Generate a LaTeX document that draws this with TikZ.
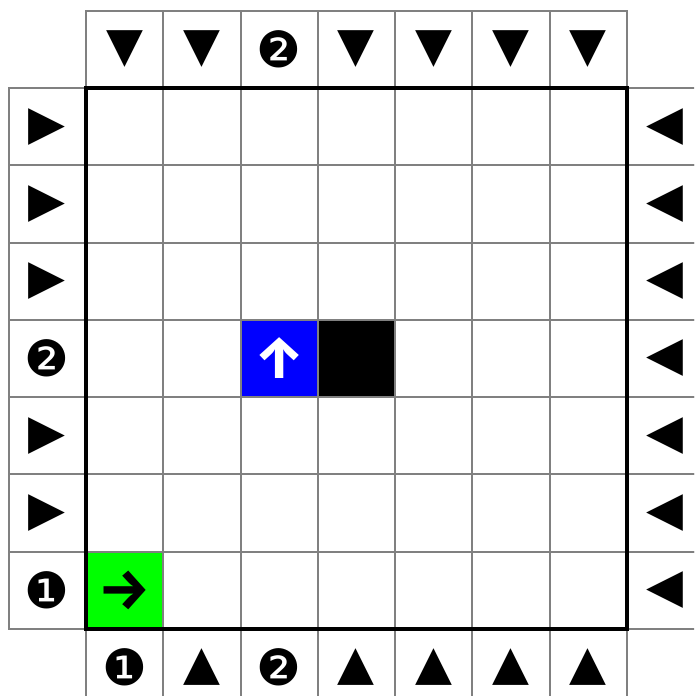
\documentclass[tikz,border=0pt]{standalone}
\usepackage{fontspec}
\newfontfamily\dv{DejaVu Sans}
\newfontfamily\fira{Fira Sans}[UprightFont={* Bold}]
\usetikzlibrary{backgrounds}
\definecolor{gridgray}{HTML}{808080}
\definecolor{cellgreen}{HTML}{00FF00}
\definecolor{cellblue}{HTML}{0000FF}
\begin{document}
\begin{tikzpicture}[x=1pt,y=-1pt,
  cell/.style={draw=gridgray, line width=2pt, minimum size=77.25pt, inner sep=0pt, outer sep=0pt},
  tri/.style={font=\dv\fontsize{48}{48}\selectfont},
  num/.style={font=\dv\fontsize{50}{50}\selectfont},
  arr/.style={font=\fira\fontsize{58}{58}\selectfont}]
\useasboundingbox (0,0) rectangle (694,696);
\clip (0,0) rectangle (694,696);
\def\cs{77.25}
% main grid
\foreach \i in {0,...,6} {
  \foreach \j in {0,...,6} {
    \node[cell] (m-\i-\j) at ({86+(\j+0.5)*\cs},{88+(\i+0.5)*\cs}) {};
  }
}
% coloured cells (under the grid lines)
\begin{scope}[on background layer]
  \fill[cellblue] (m-3-2.north west) rectangle (m-3-2.south east);
  \fill[black] (m-3-3.north west) rectangle (m-3-3.south east);
  \fill[cellgreen] (m-6-0.north west) rectangle (m-6-0.south east);
\end{scope}
\node[arr, text=white] (up) at (m-3-2) {↑};
\node[arr, text=black] (right) at (m-6-0) {→};
% clue cells
\foreach \k in {0,...,6} {
  \node[cell] (t-\k) at ({86+(\k+0.5)*\cs},{88-0.5*\cs}) {};
  \node[cell] (b-\k) at ({86+(\k+0.5)*\cs},{88+7.5*\cs}) {};
  \node[cell] (l-\k) at ({86-0.5*\cs},{88+(\k+0.5)*\cs}) {};
  \node[cell] (r-\k) at ({86+7.5*\cs},{88+(\k+0.5)*\cs}) {};
}
% top clues
\foreach \k/\s/\st in {0/▼/tri,1/▼/tri,2/❷/num,3/▼/tri,4/▼/tri,5/▼/tri,6/▼/tri} {
  \node[\st] (tc-\k) at (t-\k) {\s};
}
% bottom clues
\foreach \k/\s/\st in {0/❶/num,1/▲/tri,2/❷/num,3/▲/tri,4/▲/tri,5/▲/tri,6/▲/tri} {
  \node[\st] (bc-\k) at (b-\k) {\s};
}
% left clues
\foreach \k/\s/\st in {0/▶/tri,1/▶/tri,2/▶/tri,3/❷/num,4/▶/tri,5/▶/tri,6/❶/num} {
  \node[\st] (lc-\k) at (l-\k) {\s};
}
% right clues
\foreach \k in {0,...,6} {
  \node[tri] (rc-\k) at (r-\k) {◀};
}
% thick frame
\draw[line width=3.5pt] (m-0-0.north west) rectangle (m-6-6.south east);
\end{tikzpicture}
\end{document}
